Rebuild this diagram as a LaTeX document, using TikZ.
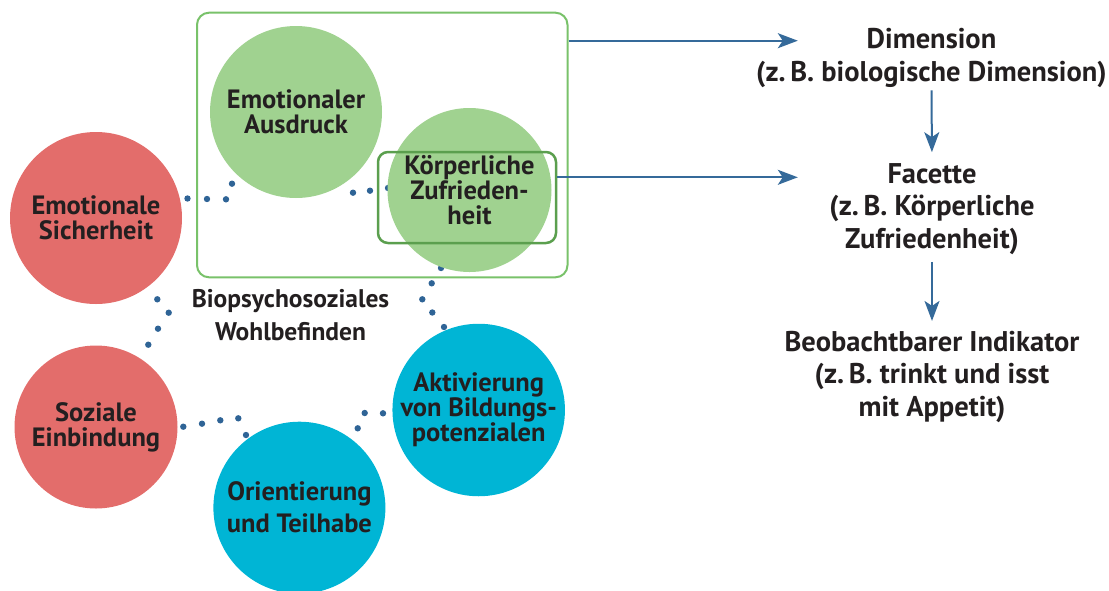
\documentclass[tikz,border=0pt]{standalone}
\usepackage{fontspec}
\setmainfont{PT Sans}
\usetikzlibrary{arrows.meta}
\definecolor{cgreen}{HTML}{A0D290}
\definecolor{cred}{HTML}{E36D6B}
\definecolor{cteal}{HTML}{00B5D5}
\definecolor{cdot}{HTML}{2F6496}
\definecolor{cbox}{HTML}{79C26A}
\definecolor{cbox2}{HTML}{5B9F4E}
\definecolor{ctext}{HTML}{231F20}
\definecolor{carrow}{HTML}{356A9A}
\begin{document}
\begin{tikzpicture}[x=1pt,y=-1pt,
  bubble/.style={circle, inner sep=0pt, align=center, text=ctext,
    font=\bfseries\fontsize{26.5}{25}\selectfont},
  greenb/.style={bubble, fill=cgreen},
  redb/.style={bubble, fill=cred},
  tealb/.style={bubble, fill=cteal},
  dimbox/.style={draw=cbox, line width=2pt, rounded corners=12pt, inner sep=0pt},
  facbox/.style={draw=cbox2, line width=2.5pt, rounded corners=10pt, inner sep=0pt},
  rtext/.style={align=center, text=ctext, inner sep=0pt, anchor=base,
    font=\bfseries\fontsize{28.5}{32.5}\selectfont},
  ctext/.style={align=center, text=ctext, inner sep=0pt, anchor=base,
    font=\bfseries\fontsize{25.5}{33}\selectfont},
  arr/.style={draw=carrow, line width=2pt,
    -{Stealth[length=20pt, width=15pt, inset=5pt]}},
  dot/.style={fill=cdot}
]
\useasboundingbox (0,0) rectangle (1109,590);
\clip (0,0) rectangle (1109,590);

% big dimension box
\node[dimbox, minimum width=370.5pt, minimum height=264.6pt] (bigbox) at (382.25,145) {};

% dotted connections
\foreach \p in {(187.5,198.5),(207,199),(226,199.3),(232,183.7),
  (353,192.7),(370,190.7),(388,188),
  (441,268),(431.7,283.3),(422.3,299.3),(432.3,312.5),(444,327),
  (157.3,299.3),(168.7,312.7),(158,328.7),(148.3,344.7),
  (183.3,426.7),(202,423.7),(220.3,420.3),(238.3,418.3),(246,435),
  (357.7,428.3),(364.7,413),(383,413.3)}
  \fill[dot] \p circle[radius=3.2pt];

% circles
\node[greenb, minimum size=172pt] (ea) at (296,112) {Emotionaler\\Ausdruck};
\node[greenb, minimum size=164pt] (kz) at (469.5,190) {Körperliche\\Zufrieden-\\heit};
\node[redb, minimum size=172pt] (es) at (96,218) {Emotionale\\Sicherheit};
\node[redb, minimum size=163pt] (se) at (96,427) {Soziale\\Einbindung};
\node[tealb, minimum size=172pt, font=\bfseries\fontsize{26.5}{32}\selectfont] (ot) at (299.4,507.7) {Orientierung\\und Teilhabe};
\node[tealb, minimum size=172pt] (ak) at (478.7,410) {Aktivierung\\von Bildungs-\\potenzialen};

% facet box
\node[facbox, minimum width=178pt, minimum height=91pt] (smallbox) at (467,197.5) {};

% centre label (anchored at the baseline of its last line)
\node[ctext] (bio) at (290.5,340.7) {Biopsychosoziales\\Wohlbefinden};

% right column (anchored at the baseline of the last line)
\node[rtext] (dim) at (931.5,81) {Dimension\\(z.\,B. biologische Dimension)};
\node[rtext] (fac) at (932,248.3) {Facette\\(z.\,B. Körperliche\\Zufriedenheit)};
\node[rtext] (ind) at (932,416) {Beobachtbarer Indikator\\(z.\,B. trinkt und isst\\mit Appetit)};

\coordinate (a1) at (797.8,40.7);
\coordinate (a2) at (797.8,177.3);
\draw[arr] (bigbox.east |- a1) -- (a1);
\draw[arr] (smallbox.east |- a2) -- (a2);
\draw[arr, shorten <=3pt, shorten >=11pt] (dim.south) -- (fac.north);
\draw[arr, shorten <=7pt, shorten >=9.6pt] (fac.south) -- (ind.north);
\end{tikzpicture}
\end{document}
